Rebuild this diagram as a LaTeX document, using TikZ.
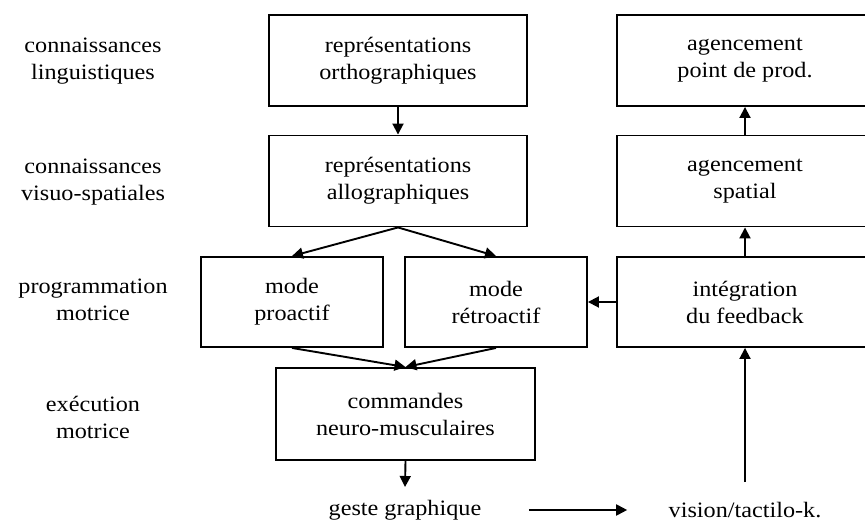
\documentclass[tikz,border=0pt]{standalone}
\usepackage{fontspec}
\setmainfont[FakeStretch=1.1]{Liberation Serif}
\usetikzlibrary{arrows.meta}

\begin{document}
\begin{tikzpicture}[x=1pt, y=-1pt, >={Triangle[length=11pt,width=11pt]},
  every node/.style={font=\fontsize{22}{27}\selectfont, align=center},
  box/.style={draw, line width=1.9pt, minimum height=91pt, inner sep=0pt},
  link/.style={->, line width=1.9pt}]
\useasboundingbox (0,0) rectangle (865,521);
% levels
\node (lev1) at (93,61) {connaissances\\linguistiques};
\node (lev2) at (93,182) {connaissances\\visuo-spatiales};
\node (lev3) at (93,300) {programmation\\motrice};
\node (lev4) at (93,417) {exécution\\motrice};
% left column
\node[box, minimum width=258pt] (ortho) at (398,60.5) {représentations\\orthographiques};
\node[box, minimum width=258pt] (allo) at (398,181) {représentations\\allographiques};
\node[box, minimum width=182pt, minimum height=90pt] (proactif) at (292,302) {mode\\proactif};
\node[box, minimum width=182pt, minimum height=90pt] (retro) at (496,302) {mode\\rétroactif};
\node[box, minimum width=259pt, minimum height=92pt] (cmd) at (405.5,414) {commandes\\neuro-musculaires};
% right column
\node[box, minimum width=256pt] (prod) at (745,60.5) {agencement\\point de prod.};
\node[box, minimum width=256pt] (spatial) at (745,181) {agencement\\spatial};
\node[box, minimum width=256pt, minimum height=90pt] (integ) at (745,302) {intégration\\du feedback};
% output
\node (geste) at (405,510) {geste graphique};
\node (vision) at (745,510) {vision/tactilo-k.};
\coordinate (gtop) at (405,487);
\coordinate (vbot) at (745,482);

\draw[link] (ortho) -- (allo);
\draw[link] (allo.south) -- (proactif.north);
\draw[link] (allo.south) -- (retro.north);
\draw[link] (proactif.south) -- (cmd.north);
\draw[link] (retro.south) -- (cmd.north);
\draw[link] (cmd.south) -- (gtop);
\draw[link, shorten <=44pt, shorten >=38pt] (geste.east) -- (vision.west);
\draw[link] (vbot) -- (integ.south);
\draw[link] (integ.west) -- (retro.east);
\draw[link] (integ) -- (spatial);
\draw[link] (spatial) -- (prod);
\end{tikzpicture}
\end{document}
